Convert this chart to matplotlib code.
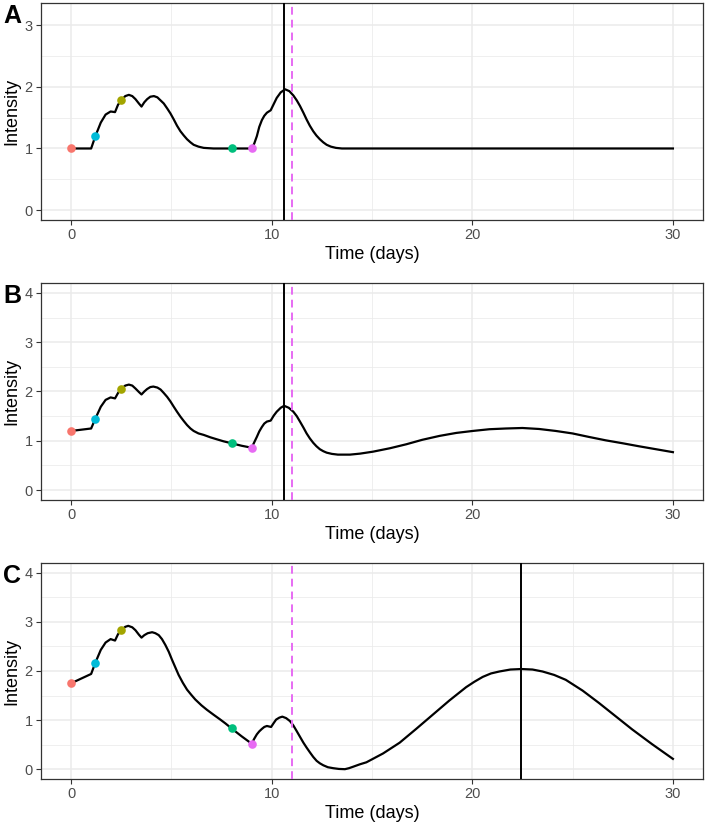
import numpy as np
import matplotlib
matplotlib.use("Agg")
import matplotlib.pyplot as plt
from matplotlib.ticker import MultipleLocator

plt.rcParams['font.family'] = ['Liberation Sans', 'DejaVu Sans']

time_a = [0, 1.0, 1.21, 1.48, 1.72, 1.97, 2.19, 2.34, 2.5, 2.7, 2.88, 3.05, 3.21, 3.38,
          3.51, 3.65, 3.79, 3.95, 4.13, 4.3, 4.46, 4.62, 4.79, 4.95, 5.12, 5.28, 5.45,
          5.62, 5.78, 5.95, 6.11, 6.35, 6.61, 6.85, 7.1, 8.0, 9.0, 9.13, 9.26, 9.38,
          9.51, 9.63, 9.76, 9.95, 10.1, 10.25, 10.45, 10.67, 10.88, 11.08, 11.25, 11.41,
          11.58, 11.74, 11.9, 12.07, 12.23, 12.4, 12.57, 12.74, 12.95, 13.2, 13.5, 13.9, 30]
intensity_a = [1.0, 1.0, 1.20, 1.42, 1.55, 1.60, 1.59, 1.71, 1.78, 1.85, 1.87, 1.85, 1.80, 1.73,
               1.68, 1.75, 1.80, 1.84, 1.85, 1.83, 1.78, 1.73, 1.65, 1.57, 1.47, 1.37, 1.28,
               1.21, 1.15, 1.10, 1.06, 1.03, 1.01, 1.005, 1.0, 1.0, 1.0, 1.08, 1.20, 1.35,
               1.46, 1.53, 1.58, 1.62, 1.72, 1.82, 1.91, 1.96, 1.93, 1.86, 1.78, 1.69,
               1.58, 1.47, 1.37, 1.28, 1.21, 1.15, 1.10, 1.06, 1.03, 1.01, 1.0, 1.0, 1.0]

time_b = [0, 1.0, 1.21, 1.48, 1.72, 1.97, 2.19, 2.34, 2.5, 2.7, 2.88, 3.05, 3.21, 3.38,
          3.51, 3.65, 3.79, 3.95, 4.1, 4.3, 4.46, 4.62, 4.79, 4.95, 5.12, 5.28, 5.45,
          5.62, 5.78, 5.95, 6.11, 6.35, 6.61, 6.95, 7.27, 7.6, 8.0, 8.5, 9.0, 9.13, 9.26,
          9.38, 9.51, 9.63, 9.76, 9.95, 10.1, 10.25, 10.45, 10.62, 10.85, 11.08, 11.25,
          11.41, 11.58, 11.74, 11.9, 12.07, 12.23, 12.4, 12.57, 12.74, 13.0, 13.3, 13.6,
          13.9, 14.4, 15.05, 15.9, 16.71, 17.5, 18.37, 19.2, 20.02, 20.85, 21.68, 22.5,
          23.33, 24.16, 24.99, 25.8, 26.65, 27.5, 28.3, 29.15, 30.0]
intensity_b = [1.20, 1.25, 1.45, 1.69, 1.83, 1.88, 1.86, 1.97, 2.05, 2.12, 2.14, 2.12, 2.06, 1.99,
               1.94, 2.00, 2.05, 2.09, 2.10, 2.08, 2.04, 1.97, 1.89, 1.80, 1.69, 1.59, 1.49,
               1.40, 1.32, 1.25, 1.20, 1.15, 1.12, 1.07, 1.03, 0.99, 0.95, 0.90, 0.86, 0.97, 1.08,
               1.19, 1.28, 1.35, 1.39, 1.41, 1.51, 1.59, 1.67, 1.71, 1.67, 1.59, 1.50,
               1.39, 1.27, 1.15, 1.05, 0.96, 0.89, 0.83, 0.79, 0.76, 0.735, 0.72, 0.72,
               0.72, 0.74, 0.78, 0.85, 0.93, 1.02, 1.10, 1.16, 1.20, 1.235, 1.25, 1.26,
               1.24, 1.20, 1.15, 1.08, 1.01, 0.95, 0.89, 0.83, 0.77]

time_c = [0, 1.0, 1.21, 1.48, 1.72, 1.97, 2.19, 2.34, 2.5, 2.7, 2.85, 3.05, 3.21, 3.38,
          3.51, 3.65, 3.82, 4.04, 4.2, 4.37, 4.53, 4.7, 4.87, 5.03, 5.2, 5.36, 5.57,
          5.78, 6.0, 6.19, 6.5, 6.77, 7.1, 7.44, 7.7, 8.0, 8.5, 9.0, 9.13, 9.26, 9.38,
          9.51, 9.63, 9.76, 9.97, 10.1, 10.22, 10.38, 10.53, 10.72, 10.91, 11.08, 11.24,
          11.41, 11.58, 11.74, 11.91, 12.07, 12.24, 12.4, 12.57, 12.8, 13.07, 13.35, 13.65,
          13.85, 14.06, 14.4, 14.72, 15.55, 16.38, 17.2, 18.03, 18.86, 19.69, 20.1, 20.52,
          20.93, 21.35, 21.9, 22.45, 23.0, 23.5, 24.08, 24.66, 25.5, 26.31, 27.14, 27.97,
          28.96, 30.0]
intensity_c = [1.75, 1.94, 2.17, 2.43, 2.58, 2.65, 2.62, 2.75, 2.83, 2.90, 2.92, 2.89, 2.83, 2.74,
               2.68, 2.73, 2.77, 2.79, 2.77, 2.73, 2.65, 2.53, 2.39, 2.23, 2.07, 1.92, 1.76,
               1.62, 1.51, 1.42, 1.30, 1.21, 1.11, 1.01, 0.93, 0.83, 0.67, 0.52, 0.62, 0.71, 0.77,
               0.82, 0.86, 0.88, 0.86, 0.94, 1.01, 1.05, 1.07, 1.04, 0.98, 0.89, 0.78,
               0.66, 0.54, 0.44, 0.34, 0.25, 0.17, 0.12, 0.08, 0.04, 0.02, 0.005, 0.0,
               0.02, 0.05, 0.10, 0.14, 0.32, 0.54, 0.82, 1.11, 1.40, 1.67, 1.78, 1.88,
               1.95, 1.99, 2.03, 2.04, 2.03, 1.99, 1.92, 1.82, 1.60, 1.35, 1.08, 0.81,
               0.51, 0.21]

point_times = [0, 1.2, 2.5, 8, 9]
point_colors = ['#F8766D', '#00BBD8', '#A3A500', '#00BF7D', '#E76BF3']
points_a = [1.0, 1.20, 1.78, 1.0, 1.0]
points_b = [1.20, 1.45, 2.05, 0.95, 0.86]
points_c = [1.75, 2.17, 2.83, 0.83, 0.52]

peak_lines = [10.63, 10.63, 22.45]
dashed_line = 11
ylims = [(-0.16, 3.36), (-0.2, 4.2), (-0.2, 4.2)]
panel_labels = ['A', 'B', 'C']

fig = plt.figure(figsize=(7.06, 8.26), dpi=100)
W, H = 706, 826
boxes = [(3, 220), (283, 500), (563, 779)]  # top, bottom in px

panels = [(time_a, intensity_a, points_a), (time_b, intensity_b, points_b),
          (time_c, intensity_c, points_c)]

for i, (t, y, pts) in enumerate(panels):
    top, bot = boxes[i]
    ax = fig.add_axes([41 / W, 1 - bot / H, 662 / W, (bot - top) / H])
    ax.set_xlim(-1.5, 31.5)
    ax.set_ylim(*ylims[i])
    ax.xaxis.set_major_locator(MultipleLocator(10))
    ax.xaxis.set_minor_locator(MultipleLocator(5))
    ax.yaxis.set_major_locator(MultipleLocator(1))
    ax.yaxis.set_minor_locator(MultipleLocator(0.5))
    ax.grid(which='major', color='#EBEBEB', lw=1.1, zorder=0)
    ax.grid(which='minor', color='#EBEBEB', lw=0.55, zorder=0)
    ax.set_axisbelow(True)
    ax.tick_params(which='major', length=3.3, width=0.8, color='#333333',
                   labelsize=10.5, labelcolor='#4D4D4D', pad=2.6)
    ax.tick_params(which='minor', length=0)
    for s in ax.spines.values():
        s.set_color('#333333')
        s.set_linewidth(0.9)

    ax.plot(t, y, color='black', lw=1.6, zorder=3)
    ax.axvline(peak_lines[i], color='black', lw=1.4, zorder=4)
    ax.axvline(dashed_line, color='#E76BF3', lw=1.4, ls=(0, (4, 2.6)), zorder=4)
    for tx, v, c in zip(point_times, pts, point_colors):
        ax.plot(tx, v, 'o', color=c, ms=6.2, mec='none', zorder=5)

    ax.set_xlabel('Time (days)', fontsize=13, labelpad=2.5)
    ax.set_ylabel('Intensity', fontsize=13, labelpad=3)
    fig.text(3 / W, 1 - (top + 1) / H, panel_labels[i], fontsize=18,
             fontweight='bold', va='top', ha='left')

fig.savefig('out.png', dpi=100)
